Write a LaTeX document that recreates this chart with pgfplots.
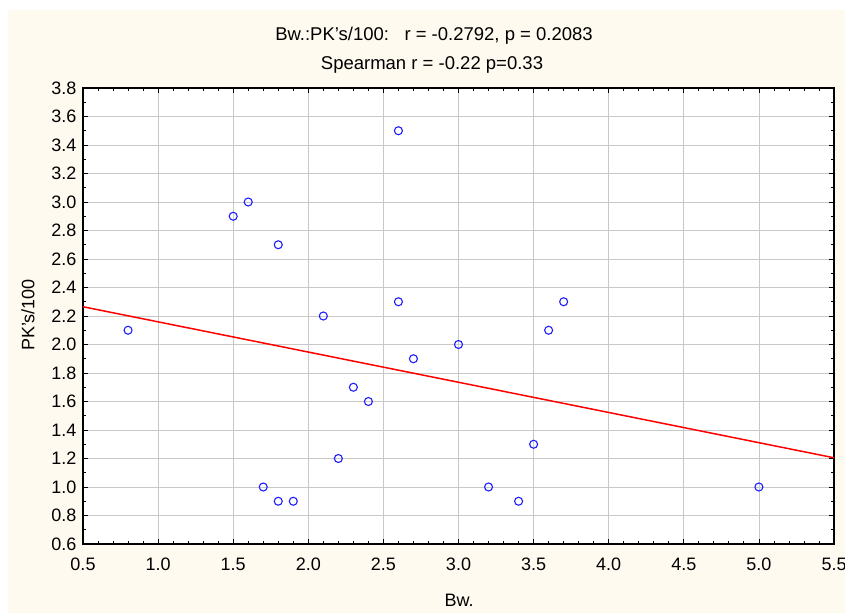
\documentclass[border=0pt]{standalone}
\usepackage{pgfplots}
\pgfplotsset{compat=1.18}
\usepackage{fontspec}
\setmainfont{Liberation Sans}
\definecolor{bgcream}{RGB}{255,250,240}
\definecolor{gridgray}{RGB}{200,200,200}
\definecolor{ptblue}{RGB}{30,30,255}
\pgfplotstableread{
x y
0.8 2.1
1.5 2.9
1.6 3.0
1.8 2.7
2.6 3.5
2.6 2.3
2.1 2.2
2.7 1.9
3.0 2.0
2.3 1.7
2.4 1.6
2.2 1.2
1.7 1.0
1.8 0.9
1.9 0.9
3.2 1.0
3.4 0.9
3.5 1.3
3.6 2.1
3.7 2.3
5.0 1.0
}\datatable
\begin{document}
\begin{tikzpicture}[x=1pt,y=1pt]
\useasboundingbox (0,0) rectangle (845,613);
\fill[white] (0,0) rectangle (845,613);
\fill[bgcream] (8,0) rectangle (845,603);
\begin{axis}[
  at={(83pt,69pt)}, anchor=south west,
  scale only axis, width=751pt, height=456pt,
  xmin=0.5, xmax=5.5, ymin=0.6, ymax=3.8,
  xtick={0.5,1.0,1.5,2.0,2.5,3.0,3.5,4.0,4.5,5.0,5.5},
  ytick={0.6,0.8,1.0,1.2,1.4,1.6,1.8,2.0,2.2,2.4,2.6,2.8,3.0,3.2,3.4,3.6,3.8},
  minor x tick num=4, minor y tick num=1,
  tick align=inside,
  major tick length=5pt, minor tick length=3pt,
  tick style={black, line width=0.8pt},
  grid=major,
  major grid style={gridgray, line width=0.8pt},
  axis line style={black, line width=1.2pt},
  axis background/.style={fill=white},
  /pgf/number format/assume math mode=true,
  /pgf/number format/.cd, fixed, fixed zerofill, precision=1, /pgfplots/.cd,
  tick label style={font=\fontsize{18}{20}\selectfont},
  xticklabel style={anchor=base, yshift=-26pt},
  yticklabel style={anchor=east, xshift=-3pt},
  clip=true,
]
\addplot[red, line width=1.5pt] coordinates {(0.5,2.265) (5.5,1.205)};
\addplot[only marks, mark=o, mark size=4pt, mark options={ptblue, line width=1.1pt}] table[x=x,y=y] {\datatable};
\end{axis}
\node[anchor=base, font=\fontsize{18.5}{20}\selectfont] at (434,572) {Bw.:PK's/100:\ \ \ r = -0.2792, p = 0.2083};
\node[anchor=base, font=\fontsize{18.5}{20}\selectfont] at (432,543) {Spearman r = -0.22 p=0.33};
\node[anchor=base, font=\fontsize{18}{20}\selectfont] at (459,7) {Bw.};
\node[rotate=90, font=\fontsize{18}{20}\selectfont] at (28,298) {PK's/100};
\end{tikzpicture}
\end{document}
